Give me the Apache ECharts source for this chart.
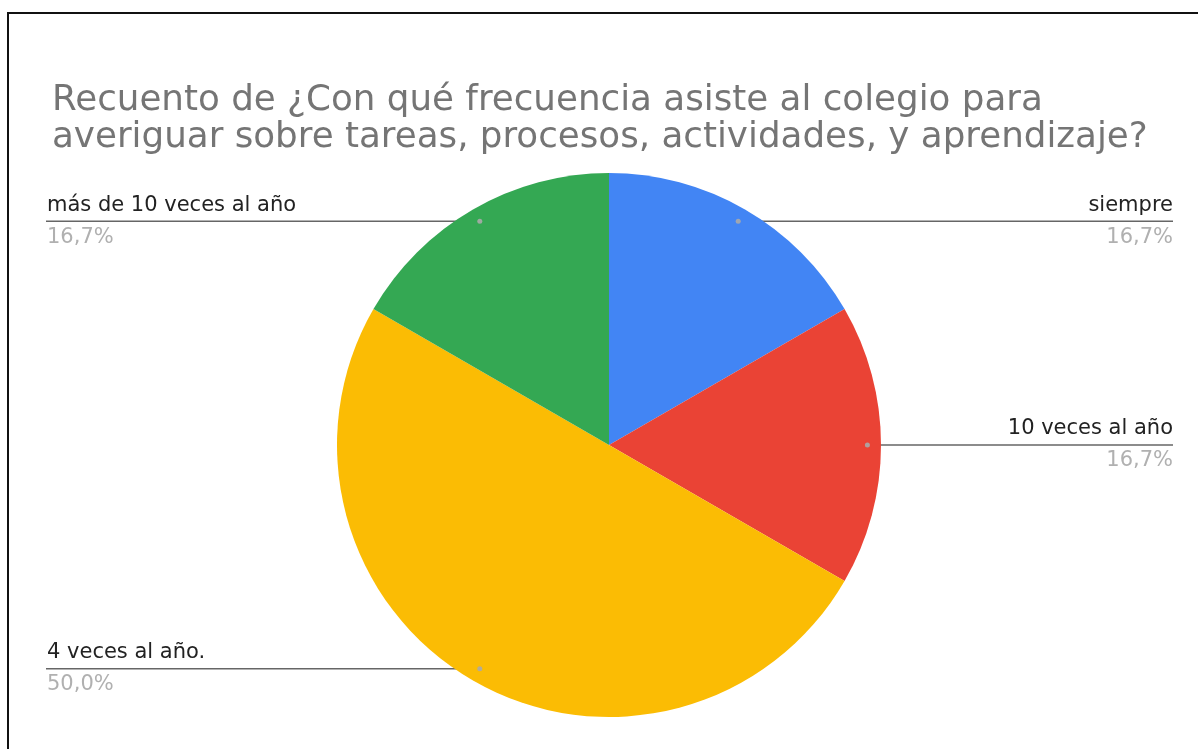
<!DOCTYPE html>
<html>
<head>
<meta charset="utf-8">
<script src="https://cdn.jsdelivr.net/npm/echarts@6/dist/echarts.min.js"></script>
<style>
  html, body { margin: 0; padding: 0; background: #fff; }
  #chart { width: 1198px; height: 749px; }
  .frame { position: absolute; left: 7px; top: 12px; width: 1300px; height: 900px;
           border-left: 2px solid #111; border-top: 2px solid #111; pointer-events: none; }
</style>
</head>
<body>
<div id="chart"></div>
<div class="frame"></div>
<script>
const categories = ['siempre', '10 veces al año', '4 veces al año.', 'más de 10 veces al año']
const counts = [1, 1, 3, 1]
const colors = ['#4285f4', '#ea4335', '#fbbc04', '#34a853']
const pctLabels = ['16,7%', '16,7%', '50,0%', '16,7%']

const CX = 609, CY = 445, R = 272
const LEFT_X = 46, RIGHT_X = 1173

const chart = echarts.init(document.getElementById('chart'))

chart.setOption({
  animation: false,
  title: {
    text: 'Recuento de ¿Con qué frecuencia asiste al colegio para\naveriguar sobre tareas, procesos, actividades, y aprendizaje?',
    left: 47,
    top: 77,
    textStyle: {
      fontFamily: 'DejaVu Sans',
      fontSize: 35.7,
      fontWeight: 'normal',
      lineHeight: 37,
      color: '#757575'
    }
  },
  series: [
    {
      type: 'pie',
      center: [CX, CY],
      radius: R,
      startAngle: 90,
      clockwise: true,
      avoidLabelOverlap: false,
      silent: true,
      data: categories.map((name, i) => ({
        name,
        value: counts[i],
        itemStyle: { color: colors[i] }
      })),
      label: {
        show: true,
        position: 'outside',
        formatter: p => '{n|' + p.name + '}\n{p|' + pctLabels[p.dataIndex] + '}',
        rich: {
          n: { fontFamily: 'DejaVu Sans', fontSize: 21, color: '#222', lineHeight: 32 },
          p: { fontFamily: 'DejaVu Sans', fontSize: 21, color: '#b0b0b0', lineHeight: 32 }
        }
      },
      labelLine: {
        show: true,
        length: 0,
        length2: 10,
        lineStyle: { color: '#666', width: 1.5 }
      },
      labelLayout: params => {
        const pts = params.labelLinePoints
        if (!pts) return {}
        // pull the start of the leader inside the slice
        const sx = CX + (pts[0][0] - CX) * 0.95
        const sy = CY + (pts[0][1] - CY) * 0.95
        const left = sx < CX
        const ex = left ? LEFT_X : RIGHT_X
        return {
          x: left ? ex + 1 : ex,
          y: sy,
          align: left ? 'left' : 'right',
          verticalAlign: 'middle',
          labelLinePoints: [[sx, sy], [ex, sy], [ex, sy]]
        }
      }
    }
  ]
})

// small dots where the leader lines start
try {
  const data = chart.getModel().getSeriesByIndex(0).getData()
  const dots = []
  for (let i = 0; i < data.count(); i++) {
    const l = data.getItemLayout(i)
    const mid = (l.startAngle + l.endAngle) / 2
    dots.push({
      type: 'circle',
      silent: true,
      shape: { cx: l.cx + Math.cos(mid) * l.r * 0.95, cy: l.cy + Math.sin(mid) * l.r * 0.95, r: 2.5 },
      style: { fill: 'rgba(170,170,170,0.9)' },
      z: 100
    })
  }
  chart.setOption({ graphic: dots })
} catch (e) {}
</script>
</body>
</html>
